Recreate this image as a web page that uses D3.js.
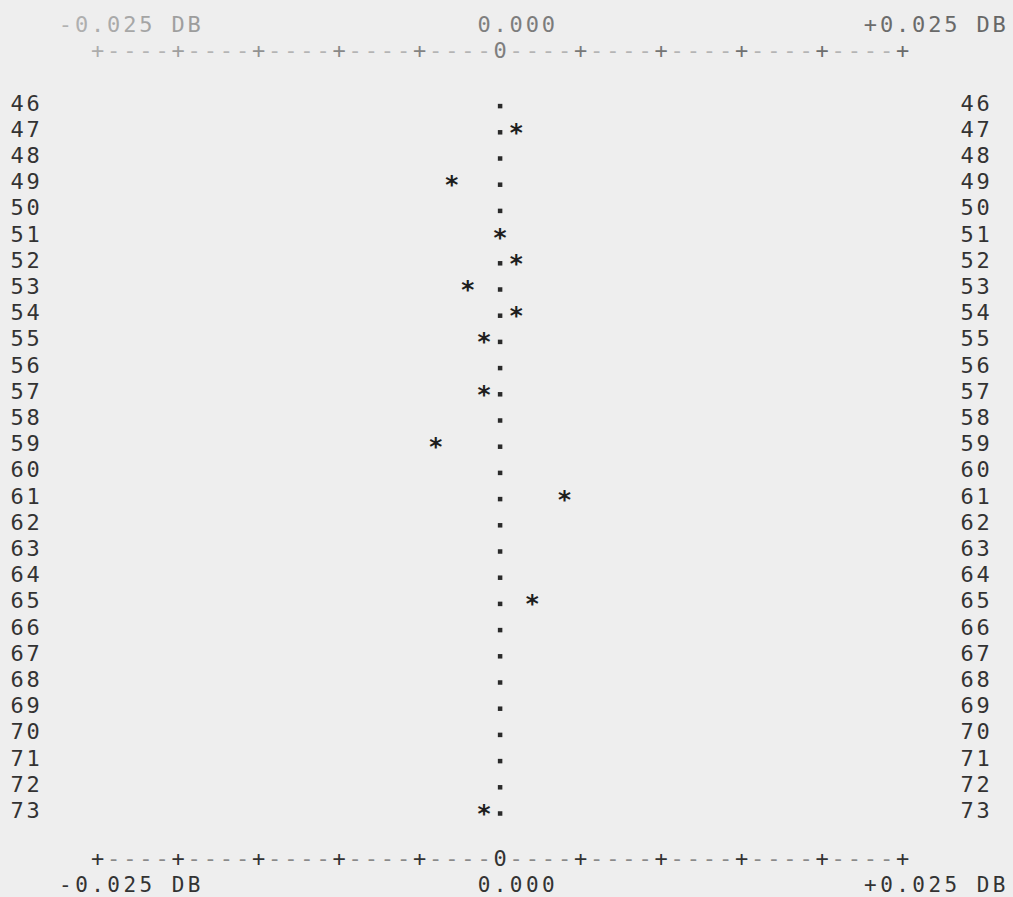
<!DOCTYPE html>
<html>
<head>
<meta charset="utf-8">
<script src="https://cdn.jsdelivr.net/npm/d3@7"></script>
<style>
  html, body { margin: 0; padding: 0; background: #eeeeee; }
  svg { display: block; }
  text { font-family: "DejaVu Sans Mono", "Liberation Mono", monospace; }
</style>
</head>
<body>
<svg id="chart" width="1013" height="897"></svg>
<script>
// ---- data ----
const rows = [46,47,48,49,50,51,52,53,54,55,56,57,58,59,60,61,62,63,64,65,66,67,68,69,70,71,72,73];
const starRows = [47,49,51,52,53,54,55,57,59,61,65,73];
const starValues = [0.001,-0.003,0.000,0.001,-0.002,0.001,-0.001,-0.001,-0.004,0.004,0.002,-0.001];
const axisMin = -0.025, axisMax = 0.025, axisStep = 0.001;
const tickLabelValues = [-0.025, 0, 0.025];
const tickLabels = ["-0.025 DB", "0.000", "+0.025 DB"];

// ---- layout ----
const W = 1013, H = 897;
const svg = d3.select("#chart").attr("width", W).attr("height", H);
svg.append("rect").attr("width", W).attr("height", H).attr("fill", "#eeeeee");

const x = d3.scaleLinear().domain([axisMin, axisMax]).range([97.6, 902.6]);
const cw = (x(axisMax) - x(axisMin)) / Math.round((axisMax - axisMin) / axisStep);
const line = d3.scaleLinear().domain([0, 1]).range([24, 24 + 26.2]);
const y = d3.scalePoint().domain(rows).range([line(3), line(30)]);

const FS = 22;
function drawChars(g, str, x0, baseY, fill, fs) {
  const chars = str.split("").map((c, i) => ({c, i})).filter(d => d.c !== " ");
  g.selectAll(null).data(chars).enter().append("text")
    .attr("x", d => x0 + d.i * cw)
    .attr("y", baseY)
    .attr("text-anchor", "middle")
    .attr("font-size", fs || FS)
    .attr("fill", fill)
    .text(d => d.c);
}

// gradient for faded top printing
const defs = svg.append("defs");
const grad = defs.append("linearGradient").attr("id", "fadeTop")
  .attr("gradientUnits", "userSpaceOnUse").attr("x1", 0).attr("x2", W).attr("y1", 0).attr("y2", 0);
grad.append("stop").attr("offset", "0").attr("stop-color", "#bcbcbc");
grad.append("stop").attr("offset", "0.3").attr("stop-color", "#8a8a8a");
grad.append("stop").attr("offset", "0.6").attr("stop-color", "#777");
grad.append("stop").attr("offset", "1").attr("stop-color", "#666");

// ---- axes ----
const nCols = Math.round((axisMax - axisMin) / axisStep);
const axisChars = d3.range(nCols + 1).map(i => ({
  v: axisMin + i * axisStep,
  c: i === nCols / 2 ? "0" : (i % 5 === 0 ? "+" : "-")
}));

function drawAxis(axisBase, labelBase, top, labelFs) {
  const g = svg.append("g");
  g.selectAll(null).data(axisChars).enter().append("text")
    .attr("x", d => x(d.v))
    .attr("y", axisBase)
    .attr("text-anchor", "middle")
    .attr("font-size", FS)
    .attr("fill", d => {
      if (top) return d.c === "-" ? "#b4b4b4" : "url(#fadeTop)";
      return d.c === "-" ? "#8a8a8a" : "#333";
    })
    .text(d => d.c);
  // labels aligned by decimal point to tick
  tickLabels.forEach((lab, k) => {
    const dot = lab.indexOf(".");
    const x0 = x(tickLabelValues[k]) - dot * cw;
    drawChars(g, lab, x0, labelBase, top ? "url(#fadeTop)" : "#333", labelFs);
  });
}
drawAxis(line(1) + 8, line(0) + 8, true, FS);
drawAxis(866.3, 891.6, false, 21);

// ---- row labels ----
const gl = svg.append("g");
rows.forEach(r => {
  drawChars(gl, String(r), x(axisMin) - 5 * cw, y(r) + 8, "#333");
  drawChars(gl, String(r), x(axisMax) + 4 * cw, y(r) + 8, "#333");
});

// ---- zero dots (small printed squares) ----
const starSet = new Set(starRows.filter((r, i) => starValues[i] === 0));
const ds = 4.5;
svg.append("g").selectAll("rect").data(rows.filter(r => !starSet.has(r))).enter().append("rect")
  .attr("x", x(0) - ds / 2)
  .attr("y", r => y(r) + 3.5 - ds / 2)
  .attr("width", ds)
  .attr("height", ds)
  .attr("fill", "#2a2a2a");

// ---- stars ----
const stars = starRows.map((r, i) => ({r, v: starValues[i]}));
svg.append("g").selectAll("text").data(stars).enter().append("text")
  .attr("x", d => x(d.v))
  .attr("y", d => y(d.r) + 12)
  .attr("text-anchor", "middle")
  .attr("font-size", 25)
  .attr("font-weight", "bold")
  .attr("fill", "#1e1e1e")
  .text("*");
</script>
</body>
</html>
